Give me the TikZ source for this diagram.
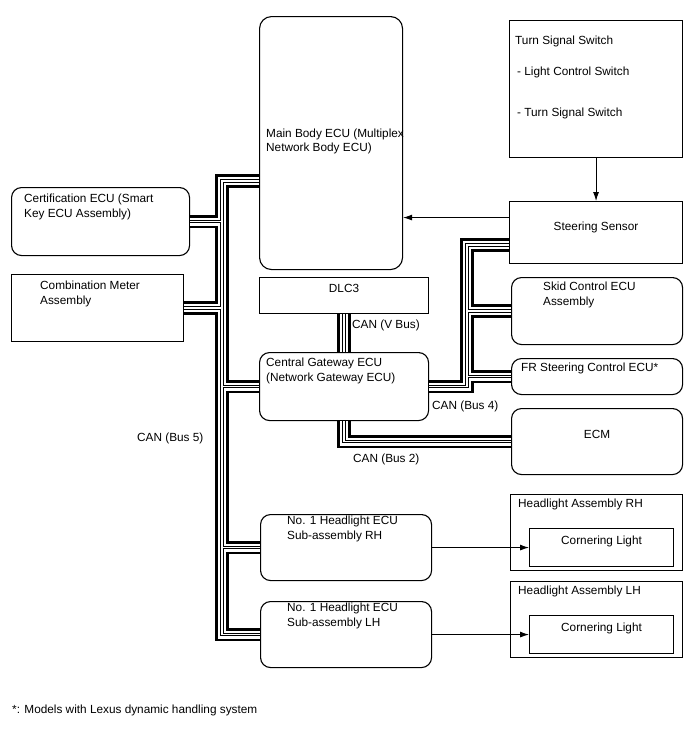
\documentclass[tikz,border=0pt]{standalone}
\usepackage{fontspec}
\setmainfont{Liberation Sans}
\usetikzlibrary{arrows.meta,positioning}
\newcommand{\tekst}{\fontsize{11.8pt}{14.7pt}\selectfont}
\tikzset{
  kutija/.style={draw=black,line width=1.1pt,anchor=north west,inner sep=0pt},
  obla/.style={kutija,rounded corners=10pt},
  natpis/.style={anchor=north west,inner sep=0pt,align=left,font=\tekst},
  sredina/.style={anchor=north,inner sep=0pt,font=\tekst},
  str/.style={-{Latex[length=9pt,width=6pt]},line width=0.9pt,black},
  busspolja/.style={line width=13.5pt,line join=miter,black},
  busbela/.style={line width=8pt,line join=miter,white},
  busjezgro/.style={line width=1pt,double=white,double distance=1.3pt,line join=miter,black},
}
% CAN magistrala: spoljna ivica, belo, dve tanke zice
\newcommand{\canbus}[1]{%
  \draw[busspolja] #1;
  \draw[busbela] #1;
  \draw[busjezgro] #1;}

\begin{document}
\begin{tikzpicture}[x=1pt,y=-1pt]
  \path[use as bounding box,fill=white] (0,0) rectangle (688,755);

  % ---------- MAIN BODY ECU I PREKIDACI ----------
  \node[obla,rounded corners=12pt,minimum width=143pt,minimum height=253pt] (mainbody) at (259,16) {};
  \node[natpis] (mainbodyT) at ([xshift=7pt,yshift=-112.5pt]mainbody.north west)
       {Main Body ECU (Multiplex\\Network Body ECU)};

  \node[kutija,minimum width=173pt,minimum height=137pt] (tss) at (509,20) {};
  \node[natpis] (tssT1) at ([xshift=6pt,yshift=-15.6pt]tss.north west) {Turn Signal Switch};
  \node[natpis] (tssT2) at ([xshift=8pt,yshift=-46.6pt]tss.north west) {- Light Control Switch};
  \node[natpis] (tssT3) at ([xshift=8pt,yshift=-87.6pt]tss.north west) {- Turn Signal Switch};

  \node[kutija,minimum width=173pt,minimum height=62pt] (steer) at (509,201) {};
  \node[sredina] (steerT) at ([yshift=-20.6pt]steer.north) {Steering Sensor};

  % ---------- LEVO ----------
  \node[obla,minimum width=178pt,minimum height=68pt] (cert) at (11,187) {};
  \node[natpis] (certT) at ([xshift=13pt,yshift=-6.6pt]cert.north west)
       {Certification ECU (Smart\\Key ECU Assembly)};

  \node[kutija,minimum width=172pt,minimum height=67pt] (comb) at (11,274) {};
  \node[natpis] (combT) at ([xshift=29pt,yshift=-6.6pt]comb.north west)
       {Combination Meter\\Assembly};

  % ---------- SREDINA ----------
  \node[kutija,minimum width=169pt,minimum height=36pt] (dlc) at (259,277) {};
  \node[sredina] (dlcT) at ([yshift=-6.6pt]dlc.north) {DLC3};

  \node[obla,minimum width=169pt,minimum height=68pt] (gw) at (259,352) {};
  \node[natpis] (gwT) at ([xshift=7pt,yshift=-5.6pt]gw.north west)
       {Central Gateway ECU\\(Network Gateway ECU)};

  % ---------- DESNO ----------
  \node[obla,minimum width=171pt,minimum height=67pt] (skid) at (511,277) {};
  \node[natpis] (skidT) at ([xshift=32pt,yshift=-4.6pt]skid.north west)
       {Skid Control ECU\\Assembly};

  \node[obla,minimum width=171pt,minimum height=36pt] (fr) at (511,358) {};
  \node[natpis] (frT) at ([xshift=10pt,yshift=-4.6pt]fr.north west) {FR Steering Control ECU*};

  \node[obla,minimum width=171pt,minimum height=66pt] (ecm) at (511,408) {};
  \node[sredina] (ecmT) at ([yshift=-21.6pt]ecm.north) {ECM};

  % ---------- FAROVI ----------
  \foreach \st/\y in {RH/514,LH/601}
  {
    \node[obla,minimum width=171pt,minimum height=66pt] (hlecu\st) at (260,\y) {};
    \node[natpis] (hlecuT\st) at ([xshift=27pt,yshift=-2.2pt]hlecu\st.north west)
         {No. 1 Headlight ECU\\Sub-assembly \st};
    \node[kutija,minimum width=172pt,minimum height=76pt] (hla\st) at (510,\y-20) {};
    \node[natpis] (hlaT\st) at ([xshift=8pt,yshift=-5pt]hla\st.north west) {Headlight Assembly \st};
    \node[kutija,minimum width=144pt,minimum height=38pt] (cl\st) at (529,\y+14) {};
    \node[sredina] (clT\st) at ([yshift=-7.6pt]cl\st.north) {Cornering Light};
    \draw[str] (hlecu\st.east) -- (cl\st.west);
  }

  % ---------- STRELICE ----------
  \draw[str] (tss.south) -- (steer.north);
  \coordinate (strulaz) at ([yshift=15pt]steer.west);
  \draw[str] (strulaz) -- (strulaz -| mainbody.east);

  % ---------- CAN MAGISTRALE ----------
  \coordinate (b5gore) at (222,181);
  \coordinate (b4gore) at (467,245);

  \canbus{(b5gore -| mainbody.west) -- (b5gore) -- (b5gore |- hlecuLH.west) -- (hlecuLH.west)
          (cert.east) -- (cert.east -| b5gore)
          (comb.east) -- (comb.east -| b5gore)
          (gw.west) -- (gw.west -| b5gore)
          (hlecuRH.west) -- (hlecuRH.west -| b5gore)}
  \canbus{(b4gore -| steer.west) -- (b4gore) -- (b4gore |- gw.east) -- (gw.east)
          (skid.west) -- (skid.west -| b4gore)
          (fr.west) -- (fr.west -| b4gore)}
  \canbus{(dlc.south) -- (gw.north)}
  \canbus{(gw.south) -- (gw.south |- ecm.west) -- (ecm.west)}

  \node[natpis] (canV) at (352,319.6) {CAN (V Bus)};
  \node[natpis] (can4) at (432,400.6) {CAN (Bus 4)};
  \node[natpis] (can2) at (353,453.6) {CAN (Bus 2)};
  \node[natpis] (can5) at (137,432.6) {CAN (Bus 5)};

  \node[natpis] (napomena) at (12,704.6) {*: Models with Lexus dynamic handling system};

\end{tikzpicture}
\end{document}
